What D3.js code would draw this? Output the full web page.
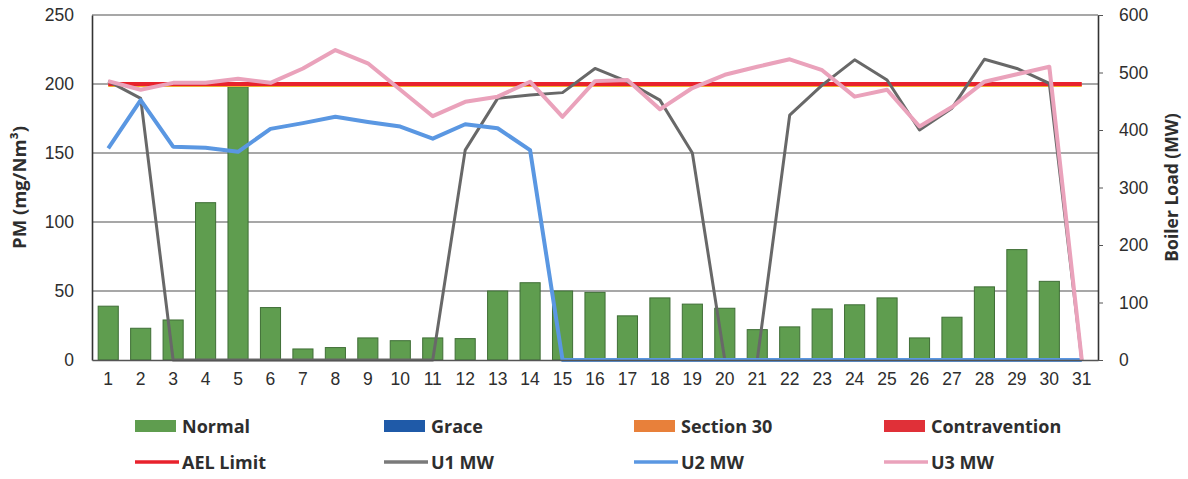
<!DOCTYPE html>
<html>
<head>
<meta charset="utf-8">
<script src="https://cdn.jsdelivr.net/npm/d3@7"></script>
<style>
  html, body { margin: 0; padding: 0; background: #fff; }
  svg { display: block; font-family: "Open Sans", "Noto Sans", sans-serif; }
</style>
</head>
<body>
<svg id="chart" width="1188" height="479"></svg>
<script>
// Days of the month
const days = d3.range(1, 32).map(String);

// Daily PM emissions (mg/Nm³), all in the "Normal" category
const pmNormal = [39, 23, 29, 114, 198, 38, 8, 9, 16, 14, 16, 15.5, 50, 56, 50, 49,
                  32, 45, 40.5, 37.5, 22, 24, 37, 40, 45, 16, 31, 53, 80, 57, 0];

// Air Emission Licence limit (mg/Nm³)
const aelLimit = 200;

// Daily boiler loads (MW)
const u1MW = [485, 455, 0, 0, 0, 0, 0, 0, 0, 0, 0, 365, 455, 461, 465, 507,
              484, 452, 360, 0, 0, 426, 478, 522, 487, 400, 438, 523, 507, 481, 0];
const u2MW = [368, 452, 371, 369, 362, 402, 412, 423, 414, 406, 385, 410, 403, 365, 0, 0,
              0, 0, 0, 0, 0, 0, 0, 0, 0, 0, 0, 0, 0, 0, 0];
const u3MW = [485, 470, 482, 482, 489, 482, 507, 539, 516, 470, 424, 449, 458, 484, 423, 485,
              487, 436, 473, 496, 510, 523, 504, 458, 470, 406, 440, 484, 497, 510, 0];

// Axis ticks
const pmTicks = [0, 50, 100, 150, 200, 250];
const mwTicks = [0, 100, 200, 300, 400, 500, 600];

const svg = d3.select("#chart");
const plot = { left: 92, right: 1098, top: 15, bottom: 360 };

const x = d3.scaleBand().domain(days).range([plot.left, plot.right]).paddingInner(0.38).paddingOuter(0.19);
const xMid = d => x(d) + x.bandwidth() / 2;
const yPM = d3.scaleLinear().domain([0, 250]).range([plot.bottom, plot.top]);
const yMW = d3.scaleLinear().domain([0, 600]).range([plot.bottom, plot.top]);

const textCol = "#2e2e2e";

// Horizontal gridlines
svg.append("g")
  .selectAll("line")
  .data(pmTicks.filter(t => t > 0))
  .join("line")
  .attr("x1", plot.left).attr("x2", plot.right)
  .attr("y1", d => yPM(d)).attr("y2", d => yPM(d))
  .attr("stroke", "#8a8a8a").attr("stroke-width", 1.6);

// PM bars
svg.append("g")
  .selectAll("rect")
  .data(days.map((d, i) => ({ day: d, v: pmNormal[i] })).filter(d => d.v > 0))
  .join("rect")
  .attr("x", d => x(d.day))
  .attr("width", x.bandwidth())
  .attr("y", d => yPM(d.v))
  .attr("height", d => yPM(0) - yPM(d.v))
  .attr("fill", "#5f9d4f")
  .attr("stroke", "#3f6e36").attr("stroke-width", 1);

// AEL limit line with its thin orange edge
svg.append("line")
  .attr("x1", xMid(days[0])).attr("x2", xMid(days[days.length - 1]))
  .attr("y1", yPM(aelLimit) + 2).attr("y2", yPM(aelLimit) + 2)
  .attr("stroke", "#f0b030").attr("stroke-width", 2);
svg.append("line")
  .attr("x1", xMid(days[0])).attr("x2", xMid(days[days.length - 1]))
  .attr("y1", yPM(aelLimit)).attr("y2", yPM(aelLimit))
  .attr("stroke", "#e8222c").attr("stroke-width", 4);

// Boiler load lines
const mwLine = d3.line().x((v, i) => xMid(days[i])).y(v => yMW(v));
const series = [
  { values: u1MW, color: "#686868", width: 3 },
  { values: u2MW, color: "#5a97e2", width: 4 },
  { values: u3MW, color: "#eaa2bb", width: 4 }
];
series.forEach(s => {
  svg.append("path")
    .attr("d", mwLine(s.values))
    .attr("fill", "none")
    .attr("stroke", s.color)
    .attr("stroke-width", s.width)
    .attr("stroke-linejoin", "round");
});

// Axes
const fontSize = "17.5px";
const leftAxis = svg.append("g")
  .attr("transform", `translate(${plot.left},0)`)
  .call(d3.axisLeft(yPM).tickValues(pmTicks).tickSize(0).tickPadding(18));
leftAxis.select(".domain").attr("stroke", "#333").attr("stroke-width", 1.6);
leftAxis.selectAll("text").attr("fill", textCol).style("font-size", fontSize);

const rightAxis = svg.append("g")
  .attr("transform", `translate(${plot.right},0)`)
  .call(d3.axisRight(yMW).tickValues(mwTicks).tickSizeInner(5).tickSizeOuter(0).tickPadding(16));
rightAxis.select(".domain").attr("stroke", "#333").attr("stroke-width", 1.6);
rightAxis.selectAll(".tick line").attr("stroke", "#555");
rightAxis.selectAll("text").attr("fill", textCol).style("font-size", fontSize);

const bottomAxis = svg.append("g")
  .attr("transform", `translate(0,${plot.bottom})`)
  .call(d3.axisBottom(x).tickSize(0).tickPadding(13));
bottomAxis.select(".domain").attr("stroke", "#555").attr("stroke-width", 1.6);
bottomAxis.selectAll("text").attr("fill", textCol).style("font-size", fontSize);

// Axis titles
svg.append("text")
  .attr("transform", `translate(26,${(plot.top + plot.bottom) / 2}) rotate(-90)`)
  .attr("text-anchor", "middle")
  .attr("fill", textCol).style("font-size", "18.5px").style("font-weight", "bold")
  .text("PM (mg/Nm³)");
svg.append("text")
  .attr("transform", `translate(1178,${(plot.top + plot.bottom) / 2}) rotate(-90)`)
  .attr("text-anchor", "middle")
  .attr("fill", textCol).style("font-size", "17.5px").style("font-weight", "bold")
  .text("Boiler Load (MW)");

// Legend
const legendItems = [
  { label: "Normal", type: "rect", color: "#5f9d4f", col: 0, row: 0 },
  { label: "Grace", type: "rect", color: "#1f5aa8", col: 1, row: 0 },
  { label: "Section 30", type: "rect", color: "#e8803a", col: 2, row: 0 },
  { label: "Contravention", type: "rect", color: "#e03038", col: 3, row: 0 },
  { label: "AEL Limit", type: "line", color: "#e8222c", col: 0, row: 1 },
  { label: "U1 MW", type: "line", color: "#7a7a7a", col: 1, row: 1 },
  { label: "U2 MW", type: "line", color: "#5a97e2", col: 2, row: 1 },
  { label: "U3 MW", type: "line", color: "#eaa2bb", col: 3, row: 1 }
];
const colX = [135, 384, 634, 884];
const rowY = [426, 462];
const lg = svg.append("g");
legendItems.forEach(it => {
  const gx = colX[it.col], gy = rowY[it.row];
  if (it.type === "rect") {
    lg.append("rect").attr("x", gx).attr("y", gy - 6).attr("width", 41).attr("height", 12)
      .attr("fill", it.color);
  } else {
    lg.append("line").attr("x1", gx).attr("x2", gx + 44).attr("y1", gy).attr("y2", gy)
      .attr("stroke", it.color).attr("stroke-width", 3.5);
  }
  lg.append("text").attr("x", gx + 47).attr("y", gy + 6.5)
    .attr("fill", textCol).style("font-size", "18px").style("font-weight", "bold")
    .text(it.label);
});
</script>
</body>
</html>
